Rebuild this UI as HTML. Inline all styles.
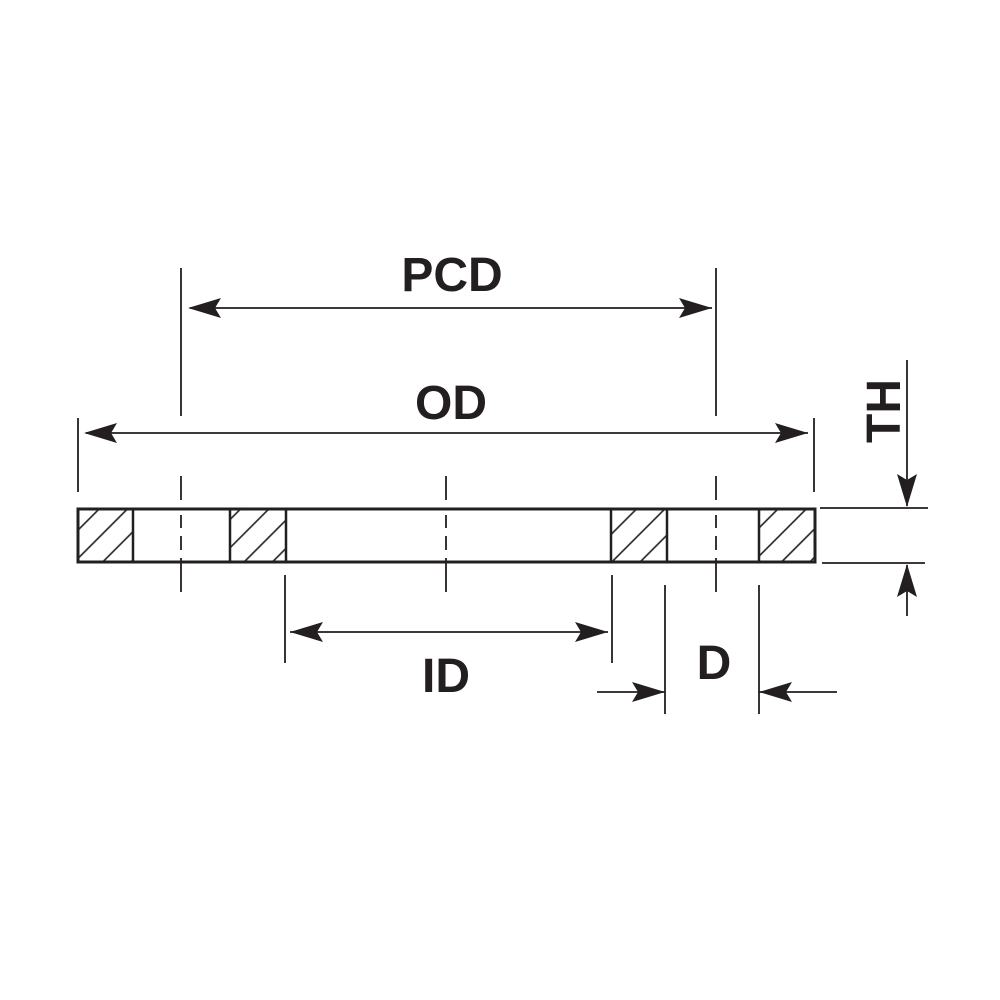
<!DOCTYPE html>
<html><head><meta charset="utf-8"><style>html,body{margin:0;padding:0;background:#fff}svg{display:block}</style></head>
<body>
<svg width="1000" height="1000" viewBox="0 0 1000 1000" xmlns="http://www.w3.org/2000/svg">
<defs>
<pattern id="h" patternUnits="userSpaceOnUse" width="20" height="20" patternTransform="rotate(45)">
<line x1="10" y1="0" x2="10" y2="20" stroke="#231f20" stroke-width="1.6"/>
</pattern>
<g id="ah"><path d="M0,0 L-33,-10 L-27,0 L-33,10 Z" fill="#231f20"/></g>
</defs>
<rect width="1000" height="1000" fill="#fff"/>
<g fill="url(#h)" stroke="#231f20" stroke-width="2.5">
<rect x="78" y="509" width="55" height="53"/>
<rect x="230" y="509" width="56" height="53"/>
<rect x="611" y="509" width="56" height="53"/>
<rect x="759" y="509" width="56" height="53"/>
</g>
<rect x="78" y="509" width="737" height="53" fill="none" stroke="#231f20" stroke-width="3"/>
<g stroke="#231f20" stroke-width="1.8" fill="none">
<path d="M181,476V500 M181,515V528 M181,536V550 M181,558V592"/>
<path d="M446,476V500 M446,515V528 M446,536V550 M446,558V592"/>
<path d="M716,476V500 M716,515V528 M716,536V550 M716,558V592"/>
<path d="M181,268V416 M716,268V416 M78,418V492 M814,418V492"/>
<path d="M285,575V663 M612,575V663 M665,585V714 M759,585V714"/>
<path d="M820,508H928 M822,563H925"/>
<path d="M190,308H712 M86,433H808 M290,632H608 M597,692H665 M759,692H837 M907,360V506 M907,565V616"/>
</g>
<use href="#ah" transform="translate(188,308) rotate(180)"/>
<use href="#ah" transform="translate(712,308)"/>
<use href="#ah" transform="translate(84,433) rotate(180)"/>
<use href="#ah" transform="translate(808,433)"/>
<use href="#ah" transform="translate(290,632) rotate(180)"/>
<use href="#ah" transform="translate(608,632)"/>
<use href="#ah" transform="translate(665,692)"/>
<use href="#ah" transform="translate(759,692) rotate(180)"/>
<use href="#ah" transform="translate(907,507) rotate(90)"/>
<use href="#ah" transform="translate(907,564) rotate(-90)"/>
<g font-family="Liberation Sans, Arial, sans-serif" font-weight="bold" font-size="48" fill="#231f20" text-anchor="middle">
<text x="452" y="291">PCD</text>
<text x="451" y="419">OD</text>
<text x="446" y="692">ID</text>
<text x="714" y="679">D</text>
<text transform="translate(900,411) rotate(-90)">TH</text>
</g>
</svg>
</body></html>
